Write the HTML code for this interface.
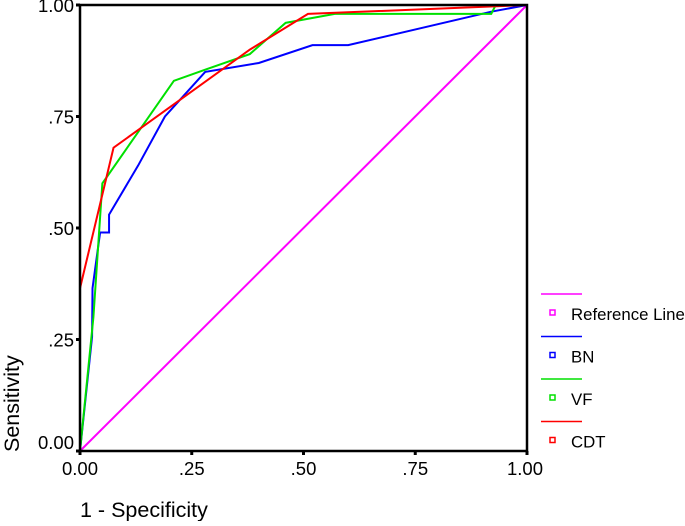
<!DOCTYPE html>
<html><head><meta charset="utf-8"><style>
body{margin:0;background:#fff;}
svg text{font-family:"Liberation Sans",Arial,sans-serif;fill:#000;}
</style></head><body>
<svg id="chart" width="685" height="521" xmlns="http://www.w3.org/2000/svg">
<g id="plot"></g>
<g id="axes"></g>
<text x="80" y="517" font-size="21.5">1 - Specificity</text>
<text transform="translate(19,452) rotate(-90)" font-size="21.5">Sensitivity</text>
<g id="legend"></g>
</svg>
<script>
const ticks=[0,0.25,0.5,0.75,1];
const tickLabels=["0.00",".25",".50",".75","1.00"];
const seriesNames=["Reference Line","BN","VF","CDT"];
const seriesColors=["#ff00ff","#0000ff","#00e000","#ff0000"];
const refX=[0,1], refY=[0,1];
const bnX=[0,0.027,0.028,0.045,0.065,0.065,0.13,0.19,0.28,0.40,0.52,0.60,0.92,1];
const bnY=[0,0.256,0.365,0.49,0.49,0.53,0.64,0.75,0.85,0.87,0.91,0.91,0.985,1];
const vfX=[0,0.03,0.05,0.21,0.28,0.38,0.46,0.57,0.92,0.93,1];
const vfY=[0,0.3,0.6,0.83,0.855,0.89,0.96,0.98,0.98,1.0,1];
const cdtX=[0,0.075,0.38,0.51,1];
const cdtY=[0.365,0.68,0.9,0.98,1];
const L=80,R=527,T=5,B=451;
const sx=v=>L+v*(R-L), sy=v=>B-v*(B-T);
const NS="http://www.w3.org/2000/svg";
function mk(tag,attrs,parent){const e=document.createElementNS(NS,tag);for(const k in attrs)e.setAttribute(k,attrs[k]);parent.appendChild(e);return e;}
const plot=document.getElementById('plot'), axes=document.getElementById('axes'), lg=document.getElementById('legend');
const series=[[refX,refY],[bnX,bnY],[vfX,vfY],[cdtX,cdtY]];
const seriesKeys=["reference-line","bn-line","vf-line","cdt-line"];
series.forEach((s,i)=>{
  const p=mk('polyline',{points:s[0].map((x,j)=>sx(x)+','+sy(s[1][j])).join(' '),fill:'none',stroke:seriesColors[i],'stroke-width':2},plot);
  
  
});
const fr=mk('rect',{x:L,y:T,width:R-L,height:B-T,fill:'none',stroke:'#000','stroke-width':2.5},axes);


ticks.forEach((t,i)=>{
  const a=mk('line',{x1:L-4,x2:L,y1:sy(t),y2:sy(t),stroke:'#000','stroke-width':3},axes);
  
  
  const b=mk('line',{x1:sx(t),x2:sx(t),y1:B,y2:B+4,stroke:'#000','stroke-width':3},axes);
  
  
  const ty=mk('text',{x:L-6,y:sy(t)+(t==1?7:t==0?-2:7),'text-anchor':'end','font-size':18.5},axes);
  ty.textContent=tickLabels[i];
  
  
  const tx=mk('text',{x:sx(t)+(t==0?0:t==1?-2:0),y:B+24,'text-anchor':'middle','font-size':18.5},axes);
  tx.textContent=tickLabels[i];
  
  
});
seriesNames.forEach((n,i)=>{
  const y0=294+i*42.5;
  const ln=mk('line',{x1:541,x2:582,y1:y0,y2:y0,stroke:seriesColors[i],'stroke-width':1.5},lg);
  
  
  const sq=mk('rect',{x:550,y:y0+16,width:5,height:5,fill:'none',stroke:seriesColors[i],'stroke-width':1.5},lg);
  
  
  const tx=mk('text',{x:571,y:y0+26,'font-size':16.8},lg);
  tx.textContent=n;
  
  
});
</script>
</body></html>
